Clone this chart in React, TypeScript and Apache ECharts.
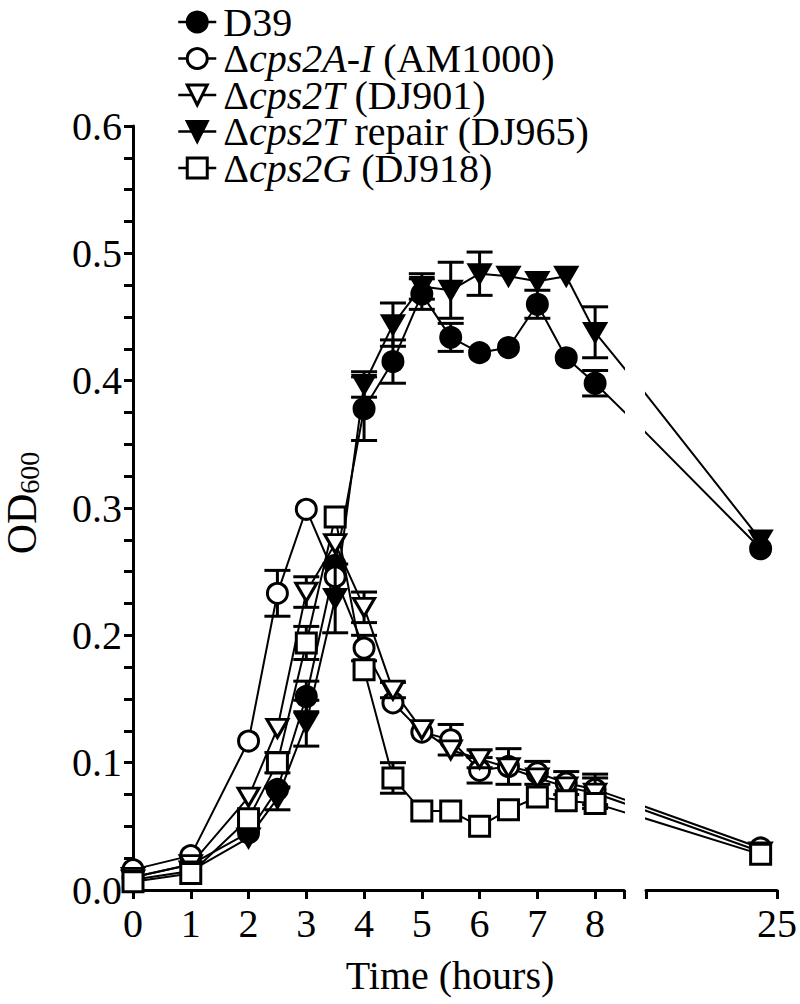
import React, { useEffect, useRef } from "react";
import * as echarts from "echarts";

// ---- data ----
const times = [0, 1, 2, 2.5, 3, 3.5, 4, 4.5, 5, 5.5, 6, 6.5, 7, 7.5, 8, 24];
const seriesNames = [
  "D39",
  "Δcps2A-I (AM1000)",
  "Δcps2T (DJ901)",
  "Δcps2T repair (DJ965)",
  "Δcps2G (DJ918)",
];
const legendRich = [
  "D39",
  "Δ{i|cps2A-I} (AM1000)",
  "Δ{i|cps2T} (DJ901)",
  "Δ{i|cps2T} repair (DJ965)",
  "Δ{i|cps2G} (DJ918)",
];
const d39 = [0.010, 0.020, 0.045, 0.079, 0.152, 0.255, 0.378, 0.415, 0.468, 0.434, 0.422, 0.426, 0.460, 0.418, 0.398, 0.268];
const d39Err = [0, 0, 0, 0, 0.012, 0, 0.025, 0.017, 0.012, 0.011, 0, 0, 0.011, 0, 0.010, 0];
const am1000 = [0.016, 0.027, 0.117, 0.233, 0.299, 0.246, 0.190, 0.147, 0.124, 0.118, 0.094, 0.097, 0.092, 0.084, 0.079, 0.033];
const am1000Err = [0, 0, 0, 0.018, 0, 0, 0.010, 0, 0, 0.012, 0.010, 0.014, 0.009, 0.009, 0.012, 0];
const dj901 = [0.010, 0.020, 0.073, 0.127, 0.234, 0.272, 0.222, 0.157, 0.126, 0.110, 0.103, 0.096, 0.088, 0.081, 0.076, 0.030];
const dj901Err = [0, 0, 0, 0, 0.012, 0, 0.012, 0.006, 0, 0, 0.007, 0, 0, 0, 0.012, 0];
const dj965 = [0.008, 0.015, 0.041, 0.072, 0.131, 0.229, 0.397, 0.444, 0.474, 0.471, 0.484, 0.482, 0.478, 0.482, 0.438, 0.275];
const dj965Err = [0, 0, 0, 0.009, 0.018, 0.027, 0.010, 0.017, 0.010, 0.022, 0.017, 0, 0, 0, 0.020, 0];
const dj918 = [0.0065, 0.013, 0.056, 0.100, 0.194, 0.293, 0.173, 0.088, 0.062, 0.062, 0.050, 0.063, 0.073, 0.070, 0.068, 0.028];
const dj918Err = [0, 0, 0, 0.008, 0.013, 0, 0, 0.012, 0, 0, 0, 0, 0, 0, 0, 0];

const xTickLabels1 = [0, 1, 2, 3, 4, 5, 6, 7, 8];
const xTickLabels2 = [25];
const yTickValues = [0, 0.1, 0.2, 0.3, 0.4, 0.5, 0.6];

const values = [d39, am1000, dj901, dj965, dj918];
const errors = [d39Err, am1000Err, dj901Err, dj965Err, dj918Err];

// ---- broken axis mapping (hours -> display units) ----
const SEG1_MAX = 8.5;
const SEG2_MIN = 17;
const SEG2_MAX = 25;
const GAP = 0.3724;
const SEG2_SCALE = 0.29123;
const toDisplay = (h: number) =>
  h <= SEG1_MAX ? h : SEG1_MAX + GAP + (h - SEG2_MIN) * SEG2_SCALE;
const toHours = (d: number) =>
  d <= SEG1_MAX + 1e-9 ? d : SEG2_MIN + (d - SEG1_MAX - GAP) / SEG2_SCALE;
const inGrid = (g: number, h: number) => (g === 0 ? h <= SEG1_MAX : h >= SEG2_MIN);

const FONT = "Liberation Serif";

const markerStyles = [
  { symbol: "circle", size: 20, rotate: 0, fill: "#000" },
  { symbol: "circle", size: 20, rotate: 0, fill: "#fff" },
  { symbol: "triangle", size: [21, 18], rotate: 180, fill: "#fff" },
  { symbol: "triangle", size: [21, 18], rotate: 180, fill: "#000" },
  { symbol: "rect", size: 20, rotate: 0, fill: "#fff" },
];

export default function App() {
  const ref = useRef<HTMLDivElement>(null);
  useEffect(() => {
    if (!ref.current) return;
    const chart = echarts.init(ref.current, null, { renderer: "svg" });

    const series: any[] = [];
    for (let g = 0; g < 2; g++) {
      seriesNames.forEach((name, k) => {
        const m = markerStyles[k];
        series.push({
          type: "line",
          name,
          xAxisIndex: g,
          yAxisIndex: g,
          data: times.map((t, i) => [toDisplay(t), values[k][i]]),
          symbol: m.symbol,
          symbolSize: m.size,
          symbolRotate: m.rotate,
          showSymbol: false,
          itemStyle: { color: m.fill, borderColor: "#000", borderWidth: 3 },
          lineStyle: { color: "#000", width: 2 },
          clip: true,
          z: 2,
          silent: true,
        });
      });
    }
    for (let g = 0; g < 2; g++) {
      seriesNames.forEach((name, k) => {
        const m = markerStyles[k];
        const errData = times
          .map((t, i) => [toDisplay(t), values[k][i], errors[k][i], t])
          .filter((d) => d[2] > 0 && inGrid(g, d[3]));
        series.push({
          type: "custom",
          name: name + "-err",
          xAxisIndex: g,
          yAxisIndex: g,
          data: errData,
          encode: { x: 0, y: 1 },
          z: 3 + k * 2,
          silent: true,
          renderItem: (params: any, api: any) => {
            const x = api.value(0);
            const y = api.value(1);
            const e = api.value(2);
            const top = api.coord([x, y + e]);
            const bot = api.coord([x, y - e]);
            const hw = 13;
            const st = { stroke: "#000", lineWidth: 3 };
            return {
              type: "group",
              children: [
                { type: "line", shape: { x1: top[0], y1: top[1], x2: bot[0], y2: bot[1] }, style: st },
                { type: "line", shape: { x1: top[0] - hw, y1: top[1], x2: top[0] + hw, y2: top[1] }, style: st },
                { type: "line", shape: { x1: bot[0] - hw, y1: bot[1], x2: bot[0] + hw, y2: bot[1] }, style: st },
              ],
            };
          },
        });
        series.push({
          type: "scatter",
          name: name + "-pts",
          xAxisIndex: g,
          yAxisIndex: g,
          data: times
            .map((t, i) => [toDisplay(t), values[k][i], t])
            .filter((d) => inGrid(g, d[2])),
          symbol: m.symbol,
          symbolSize: m.size,
          symbolRotate: m.rotate,
          itemStyle: { color: m.fill, borderColor: "#000", borderWidth: 3, opacity: 1 },
          z: 4 + k * 2,
          silent: true,
        });
      });
    }

    const axisLine = { show: true, lineStyle: { color: "#000", width: 3 } };
    const tickStyle = { color: "#000", width: 3 };
    const labelStyle = { color: "#000", fontFamily: FONT, fontSize: 40 };

    const option: any = {
      animation: false,
      backgroundColor: "#fff",
      grid: [
        { left: 133, top: 126, width: 491, height: 764, containLabel: false },
        { left: 646, top: 126, width: 134.5, height: 764, containLabel: false },
      ],
      xAxis: [
        {
          type: "value",
          gridIndex: 0,
          min: 0,
          max: SEG1_MAX,
          interval: 1,
          axisLine,
          axisTick: { show: true, length: 9, lineStyle: tickStyle, customValues: [...xTickLabels1, SEG1_MAX] },
          axisLabel: {
            ...labelStyle,
            margin: 13,
            customValues: xTickLabels1,
            formatter: (v: number) => String(Math.round(v)),
          },
          splitLine: { show: false },
        },
        {
          type: "value",
          gridIndex: 1,
          min: toDisplay(SEG2_MIN),
          max: toDisplay(SEG2_MAX),
          axisLine,
          axisTick: {
            show: true,
            length: 9,
            lineStyle: tickStyle,
            customValues: [toDisplay(SEG2_MIN), ...xTickLabels2.map(toDisplay)],
          },
          axisLabel: {
            ...labelStyle,
            margin: 13,
            customValues: xTickLabels2.map(toDisplay),
            formatter: (v: number) => String(Math.round(toHours(v))),
          },
          splitLine: { show: false },
        },
      ],
      yAxis: [
        {
          type: "value",
          gridIndex: 0,
          min: 0,
          max: 0.6,
          interval: 0.1,
          axisLine,
          axisTick: { show: true, length: 9, lineStyle: tickStyle, customValues: yTickValues },
          minorTick: { show: true, splitNumber: 4, length: 9, lineStyle: tickStyle },
          axisLabel: {
            ...labelStyle,
            margin: 11,
            customValues: yTickValues,
            formatter: (v: number) => v.toFixed(1),
          },
          splitLine: { show: false },
          minorSplitLine: { show: false },
        },
        {
          type: "value",
          gridIndex: 1,
          min: 0,
          max: 0.6,
          show: false,
          splitLine: { show: false },
        },
      ],
      legend: {
        data: seriesNames,
        orient: "vertical",
        left: 172,
        top: -3,
        itemWidth: 38,
        itemHeight: 25,
        itemGap: -3.5,
        selectedMode: false,
        itemStyle: { borderWidth: 3, borderColor: "#000" },
        lineStyle: { width: 2.5, color: "#000" },
        formatter: (name: string) => legendRich[seriesNames.indexOf(name)],
        textStyle: {
          color: "#000",
          fontFamily: FONT,
          fontSize: 40,
          lineHeight: 30,
          padding: [0, 0, 0, 2],
          rich: {
            i: { fontStyle: "italic", fontFamily: FONT, fontSize: 40, lineHeight: 30, color: "#000" },
          },
        },
      },
      graphic: [
        {
          type: "text",
          x: 450,
          y: 975,
          style: {
            text: "Time (hours)",
            fill: "#000",
            font: `40px "${FONT}"`,
            align: "center",
            verticalAlign: "middle",
          },
        },
        {
          type: "text",
          x: 22,
          y: 503,
          rotation: Math.PI / 2,
          style: {
            text: "{a|OD}{b|600}",
            fill: "#000",
            align: "center",
            verticalAlign: "middle",
            rich: {
              a: { fontFamily: FONT, fontSize: 42, lineHeight: 42, fill: "#000", verticalAlign: "bottom" },
              b: { fontFamily: FONT, fontSize: 28, lineHeight: 28, fill: "#000", verticalAlign: "bottom" },
            },
          },
        },
      ],
      series,
    };
    chart.setOption(option);
    return () => chart.dispose();
  }, []);
  return (
    <div
      ref={ref}
      style={{ position: "absolute", left: 0, top: 0, width: 800, height: 1004, background: "#fff" }}
    />
  );
}
